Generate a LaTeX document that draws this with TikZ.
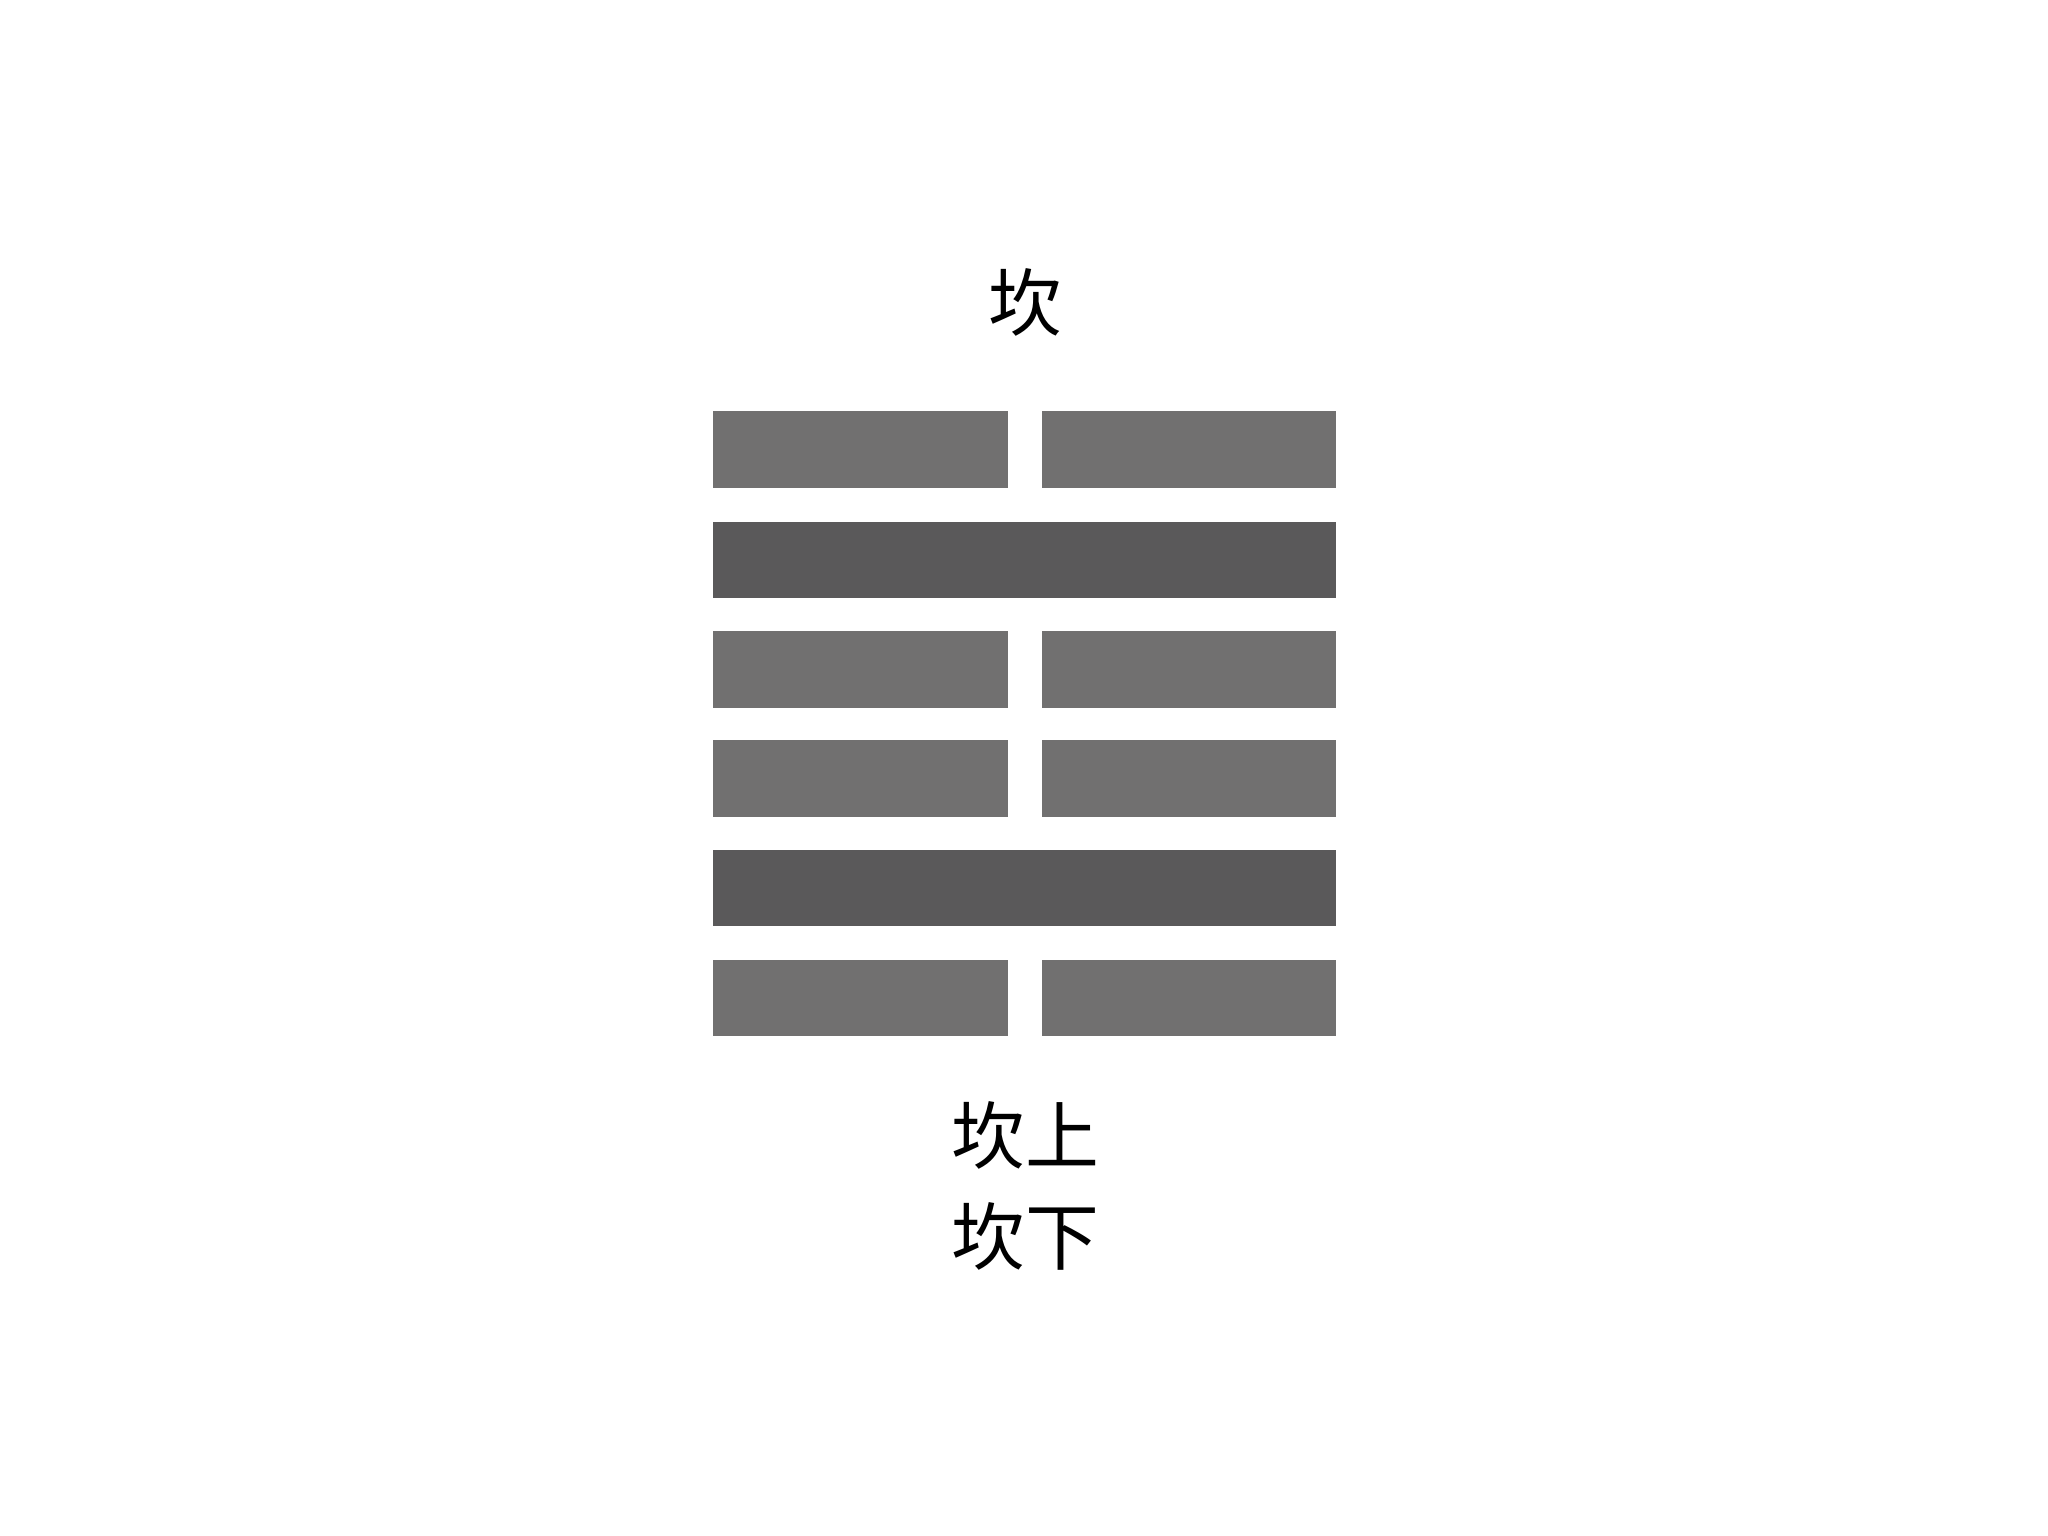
\documentclass[tikz,border=0pt]{standalone}
\usepackage{fontspec}
\newfontfamily\cjk{Noto Sans CJK SC}
\definecolor{yinbar}{HTML}{717070}
\definecolor{yangbar}{HTML}{5A595A}
\begin{document}
\begin{tikzpicture}[x=0.01cm,y=-0.01cm]

        \useasboundingbox[fill=white] (0,0) rectangle (2048,1536);

        \begin{scope}[every node/.style={rectangle,inner sep=0pt,minimum height=0.76cm}]
          \node[fill=yinbar,minimum width=2.95cm]  (6l) at (860.5,449.5) {};
          \node[fill=yinbar,minimum width=2.94cm]  (6r) at (1189,449.5)  {};
          \node[fill=yangbar,minimum width=6.23cm] (5)  at (1024.5,560)  {};
          \node[fill=yinbar,minimum width=2.95cm]  (4l) at (860.5,669.5) {};
          \node[fill=yinbar,minimum width=2.94cm]  (4r) at (1189,669.5)  {};
          \node[fill=yinbar,minimum width=2.95cm]  (3l) at (860.5,778.5) {};
          \node[fill=yinbar,minimum width=2.94cm]  (3r) at (1189,778.5)  {};
          \node[fill=yangbar,minimum width=6.23cm] (2)  at (1024.5,888)  {};
          \node[fill=yinbar,minimum width=2.95cm]  (1l) at (860.5,998)   {};
          \node[fill=yinbar,minimum width=2.94cm]  (1r) at (1189,998)    {};
        \end{scope}

        \begin{scope}[every node/.style={font=\cjk\fontsize{21pt}{25pt}\selectfont,inner sep=0pt}]
          \node (name)  at (1025,302)  {坎};
          \node (upper) at (1025,1135) {坎上};
          \node (lower) at (1025,1236) {坎下};
        \end{scope}

      \end{tikzpicture}
\end{document}
